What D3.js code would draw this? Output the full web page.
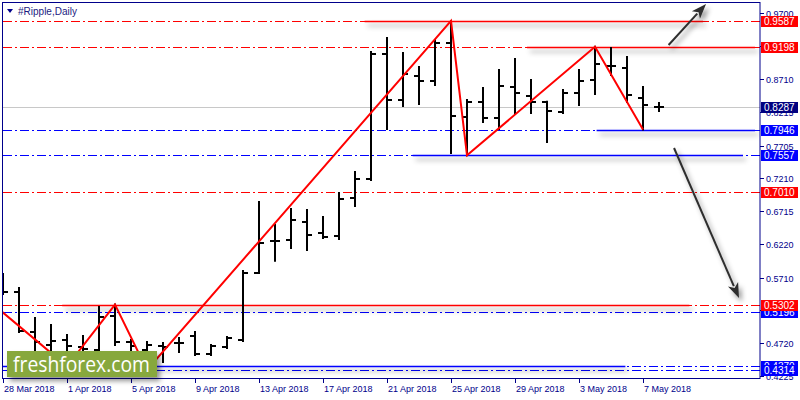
<!DOCTYPE html>
<html><head><meta charset="utf-8">
<script src="https://cdn.jsdelivr.net/npm/d3@7/dist/d3.min.js"></script>
<style>body{margin:0;background:#fff}svg{display:block}</style>
</head><body><svg id="c" width="800" height="400"></svg>
<script>
// ---- data ----
const dates = ["28 Mar","29 Mar","30 Mar","31 Mar","1 Apr","2 Apr","3 Apr","4 Apr","5 Apr","6 Apr","7 Apr","8 Apr","9 Apr","10 Apr","11 Apr","12 Apr","13 Apr","14 Apr","15 Apr","16 Apr","17 Apr","18 Apr","19 Apr","20 Apr","21 Apr","22 Apr","23 Apr","24 Apr","25 Apr","26 Apr","27 Apr","28 Apr","29 Apr","30 Apr","1 May","2 May","3 May","4 May","5 May","6 May","7 May","8 May"];
const open  = [0.5598,0.5492,0.4888,0.4692,0.4768,0.4662,0.4616,0.5130,0.4737,0.4616,0.4677,0.4722,0.4828,0.4556,0.4662,0.4768,0.5780,0.6263,0.6278,0.6550,0.6384,0.6338,0.6913,0.7200,0.9088,0.8393,0.8755,0.8680,0.9254,0.8136,0.8363,0.8121,0.8589,0.8454,0.8363,0.8212,0.8499,0.8695,0.8906,0.8876,0.8423,0.8287];
const high  = [0.5765,0.5553,0.5100,0.4994,0.4843,0.4828,0.5266,0.5302,0.4768,0.4737,0.4722,0.4798,0.4888,0.4692,0.4813,0.5810,0.6852,0.6505,0.6746,0.6731,0.6625,0.6988,0.7305,0.9118,0.9329,0.9103,0.8891,0.9299,0.9587,0.8393,0.8574,0.8846,0.9012,0.8695,0.8367,0.8544,0.8846,0.9198,0.9178,0.9043,0.8589,0.8348];
const low   = [0.5462,0.4888,0.4586,0.4541,0.4370,0.4586,0.4601,0.4692,0.4586,0.4314,0.4435,0.4586,0.4541,0.4541,0.4647,0.4752,0.5780,0.5966,0.6157,0.6127,0.6308,0.6293,0.6792,0.7185,0.7955,0.8302,0.8332,0.8619,0.7592,0.7557,0.8061,0.7955,0.8181,0.8197,0.7758,0.8197,0.8317,0.8484,0.8771,0.8363,0.7946,0.8227];
const close = [0.5492,0.4904,0.4737,0.4752,0.4677,0.4631,0.5115,0.4737,0.4677,0.4692,0.4662,0.4722,0.4556,0.4677,0.4798,0.5780,0.6233,0.6263,0.6580,0.6354,0.6323,0.6897,0.7200,0.9088,0.8393,0.8786,0.8680,0.9254,0.8151,0.8363,0.8121,0.8604,0.8499,0.8363,0.8227,0.8499,0.8680,0.8937,0.8906,0.8468,0.8317,0.8287];

const xTickIndex = [0,4,8,12,16,20,24,28,32,36,40];
const xTickLabels = ["28 Mar 2018","1 Apr 2018","5 Apr 2018","9 Apr 2018","13 Apr 2018","17 Apr 2018","21 Apr 2018","25 Apr 2018","29 Apr 2018","3 May 2018","7 May 2018"];
const yTickValues = [0.9700,0.9205,0.8710,0.8215,0.7705,0.7210,0.6715,0.6220,0.5710,0.5215,0.4720,0.4225];

// horizontal levels (resistance / support)
const levelPrices = [0.9587,0.9198,0.7946,0.7557,0.7010,0.5196,0.5302,0.4370,0.4314];
const levelKinds  = ["res","res","sup","sup","res","sup","res","sup","sup"];
// solid trend segments over levels (bar index from / to)
const segPrices = [0.9587,0.9198,0.7946,0.7557,0.5302,0.4370];
const segKinds  = ["res","res","sup","sup","res","sup"];
const segFrom   = [22.6,32.75,37.1,25.6,3.7,0];
const segTo     = [43.75,47,47,46.25,42.9,38.9];
const currentPrice = 0.8287;

// zigzag pivots
const zzIndex = [-1,4,7,9,28,29,37,40];
const zzPrice = [0.5384,0.4370,0.5302,0.4314,0.9587,0.7557,0.9198,0.7946];

// forecast arrows
const arrowFromIdx = [41.6,41.94];
const arrowFromPrice = [0.9224,0.7668];
const arrowToIdx = [43.94,46.0];
const arrowToPrice = [0.9843,0.5402];

// ---- drawing ----
const L = 3, R = 760, T = 3, B = 378;
const svg = d3.select("#c");
const x = d3.scaleLinear().domain([0,41]).range([3,659]);
const y = d3.scaleLinear().domain([0.41934,0.98582]).range([B,T]);
const colorOf = k => k === "res" ? "#ff0000" : "#0000ff";
const navy = "#00008b";

const defs = svg.append("defs");
defs.append("clipPath").attr("id","plot").append("rect")
  .attr("x",L).attr("y",T).attr("width",R-L).attr("height",B-T);
const f = defs.append("filter").attr("id","sh").attr("filterUnits","userSpaceOnUse")
  .attr("x",0).attr("y",0).attr("width",800).attr("height",400);
f.append("feDropShadow").attr("dx",3).attr("dy",4).attr("stdDeviation",2.4)
  .attr("flood-color","#000").attr("flood-opacity",0.42);

const plot = svg.append("g").attr("clip-path","url(#plot)");

// dash-dot levels
plot.selectAll("line.lvl").data(levelPrices).join("line").attr("class","lvl")
  .attr("x1",L).attr("x2",R)
  .attr("y1",d=>Math.round(y(d))+0.5).attr("y2",d=>Math.round(y(d))+0.5)
  .attr("stroke",(d,i)=>colorOf(levelKinds[i])).attr("stroke-width",1)
  .attr("stroke-dasharray","9,3,2,3");

// current price line
plot.append("line").attr("x1",L).attr("x2",R)
  .attr("y1",Math.round(y(currentPrice))+0.5).attr("y2",Math.round(y(currentPrice))+0.5)
  .attr("stroke","#c8c8c8").attr("stroke-width",1);

// solid segments with shadow
plot.append("g").attr("filter","url(#sh)").selectAll("line").data(segPrices).join("line")
  .attr("x1",(d,i)=>x(segFrom[i])).attr("x2",(d,i)=>x(segTo[i]))
  .attr("y1",d=>Math.round(y(d))+0.5).attr("y2",d=>Math.round(y(d))+0.5)
  .attr("stroke",(d,i)=>colorOf(segKinds[i])).attr("stroke-width",1.5);

// OHLC bars
plot.append("g").selectAll("path").data(dates).join("path")
  .attr("d",(d,i)=>{
    const cx = x(i);
    return `M${cx},${y(high[i])-1}V${y(low[i])+1}`+
      `M${cx-5},${Math.round(y(open[i]))}H${cx}`+
      `M${cx},${Math.round(y(close[i]))}H${cx+5}`;
  })
  .attr("stroke","#000").attr("stroke-width",2).attr("fill","none");

// zigzag
plot.append("path")
  .attr("d",d3.line()(zzIndex.map((v,i)=>[x(v),y(zzPrice[i])])))
  .attr("stroke","#ff0000").attr("stroke-width",2).attr("fill","none");

// arrows
const ag = svg.append("g").attr("filter","url(#sh)");
arrowFromIdx.forEach((v,i)=>{
  const x1 = x(v), y1 = y(arrowFromPrice[i]);
  const x2 = x(arrowToIdx[i]), y2 = y(arrowToPrice[i]);
  const a = Math.atan2(y2-y1,x2-x1), hl = 15, hw = 5.5;
  const bx = x2 - hl*Math.cos(a), by = y2 - hl*Math.sin(a);
  ag.append("line").attr("x1",x1).attr("y1",y1).attr("x2",bx+2*Math.cos(a)).attr("y2",by+2*Math.sin(a))
    .attr("stroke","#2e2e2e").attr("stroke-width",2);
  ag.append("path").attr("d",`M${x2},${y2}L${bx+hw*Math.sin(a)},${by-hw*Math.cos(a)}L${bx+4*Math.cos(a)},${by+4*Math.sin(a)}L${bx-hw*Math.sin(a)},${by+hw*Math.cos(a)}Z`)
    .attr("fill","#2e2e2e");
});

// frame
svg.append("rect").attr("x",2.5).attr("y",2.5).attr("width",R-2.5).attr("height",B-2.5+0.5)
  .attr("fill","none").attr("stroke",navy).attr("stroke-width",1);

// x axis ticks
const xa = svg.append("g").attr("font-family","Liberation Sans, Arial, sans-serif").attr("font-size",9).attr("fill",navy);
xTickIndex.forEach((v,i)=>{
  const tx = Math.round(x(v))+0.5;
  xa.append("line").attr("x1",tx).attr("x2",tx).attr("y1",B).attr("y2",B+5).attr("stroke",navy);
  xa.append("text").attr("x",tx+0.5).attr("y",392).text(xTickLabels[i]);
});

// price label boxes (drawn over tick labels)
const boxes = levelPrices.map((p,i)=>({p, c: colorOf(levelKinds[i])}));
boxes.push({p: currentPrice, c: "#000080"});

// y axis ticks; labels fully hidden under a price box are not drawn
const ya = svg.append("g").attr("font-family","Liberation Sans, Arial, sans-serif").attr("font-size",9).attr("fill",navy);
yTickValues.forEach(v=>{
  const ty = Math.round(y(v))+0.5;
  ya.append("line").attr("x1",R).attr("x2",R+4).attr("y1",ty).attr("y2",ty).attr("stroke",navy);
  const covered = boxes.some(b => Math.abs(y(b.p) - y(v)) < 3);
  if (!covered) ya.append("text").attr("x",766).attr("y",ty+3.5).text(v.toFixed(4));
});

const bg = svg.append("g").attr("font-family","Liberation Sans, Arial, sans-serif").attr("font-size",10);
boxes.forEach(b=>{
  const by = Math.round(y(b.p));
  bg.append("rect").attr("x",761).attr("y",by-5).attr("width",37).attr("height",11).attr("fill",b.c);
  bg.append("text").attr("x",764).attr("y",by+4).attr("fill","#fff").text(b.p.toFixed(4));
});

// title
svg.append("path").attr("d","M7,9L13,9L10,13Z").attr("fill",navy);
svg.append("text").attr("x",18).attr("y",15).attr("font-family","Liberation Sans, Arial, sans-serif")
  .attr("font-size",10).attr("fill","#1a1a80").text("#Ripple,Daily");

// logo
const lg = svg.append("g");
lg.append("rect").attr("x",7).attr("y",351).attr("width",150).attr("height",26).attr("fill","#87a83c")
  .attr("filter","url(#sh)");
lg.append("text").attr("x",13).attr("y",372).attr("font-family","Open Sans, sans-serif")
  .attr("font-size",21).attr("fill","#fff").attr("textLength",137).attr("lengthAdjust","spacingAndGlyphs")
  .text("freshforex.com");
</script></body></html>
